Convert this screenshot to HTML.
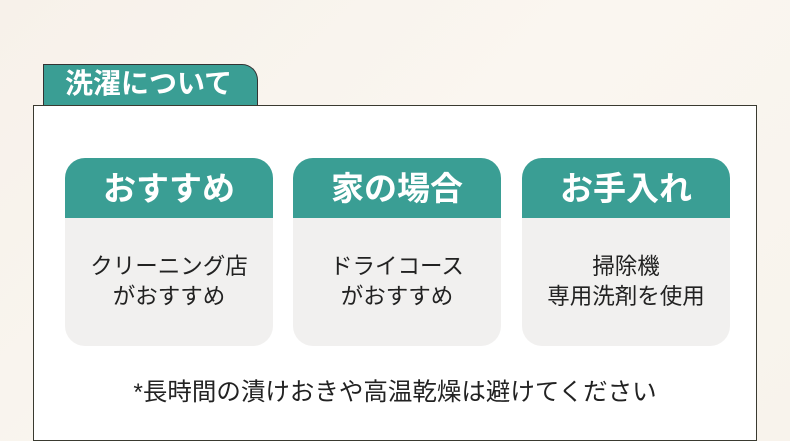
<!DOCTYPE html>
<html><head><meta charset="utf-8"><style>
body{margin:0;width:790px;height:441px;overflow:hidden;background:linear-gradient(135deg,#f7f1ea,#faf6f0 50%,#f8f3ec);font-family:"Liberation Sans","Noto Sans CJK JP",sans-serif;position:relative}
.tab{position:absolute;left:43px;top:64px;width:215px;height:41px;background:#3a9e94;border:1px solid #333;border-bottom:none;border-top-right-radius:16px;box-sizing:border-box;color:#fff;font-weight:bold;font-size:28px;line-height:38px;padding-left:21px;white-space:nowrap}
.box{position:absolute;left:33px;top:105px;width:724px;height:336px;background:#fff;border:1px solid #3a3a30;box-sizing:border-box}
.card{position:absolute;top:158px;width:208px;height:188px;border-radius:20px;background:#f1f0ef;overflow:hidden}
.card .h{height:60px;background:#3a9e94;color:#fff;font-weight:bold;font-size:33px;line-height:62px;text-align:center;white-space:nowrap}
.card .b{text-align:center;font-size:22.5px;line-height:30px;color:#222;padding-top:34px;white-space:nowrap}
.note{position:absolute;left:0;width:790px;top:373px;text-align:center;font-size:24.5px;color:#222;white-space:nowrap}
</style></head><body>
<div class="tab">洗濯について</div>
<div class="box"></div>
<div class="card" style="left:65px"><div class="h">おすすめ</div><div class="b">クリーニング店<br>がおすすめ</div></div>
<div class="card" style="left:293px"><div class="h">家の場合</div><div class="b">ドライコース<br>がおすすめ</div></div>
<div class="card" style="left:522px"><div class="h">お手入れ</div><div class="b">掃除機<br>専用洗剤を使用</div></div>
<div class="note">*長時間の漬けおきや高温乾燥は避けてください</div>
</body></html>
